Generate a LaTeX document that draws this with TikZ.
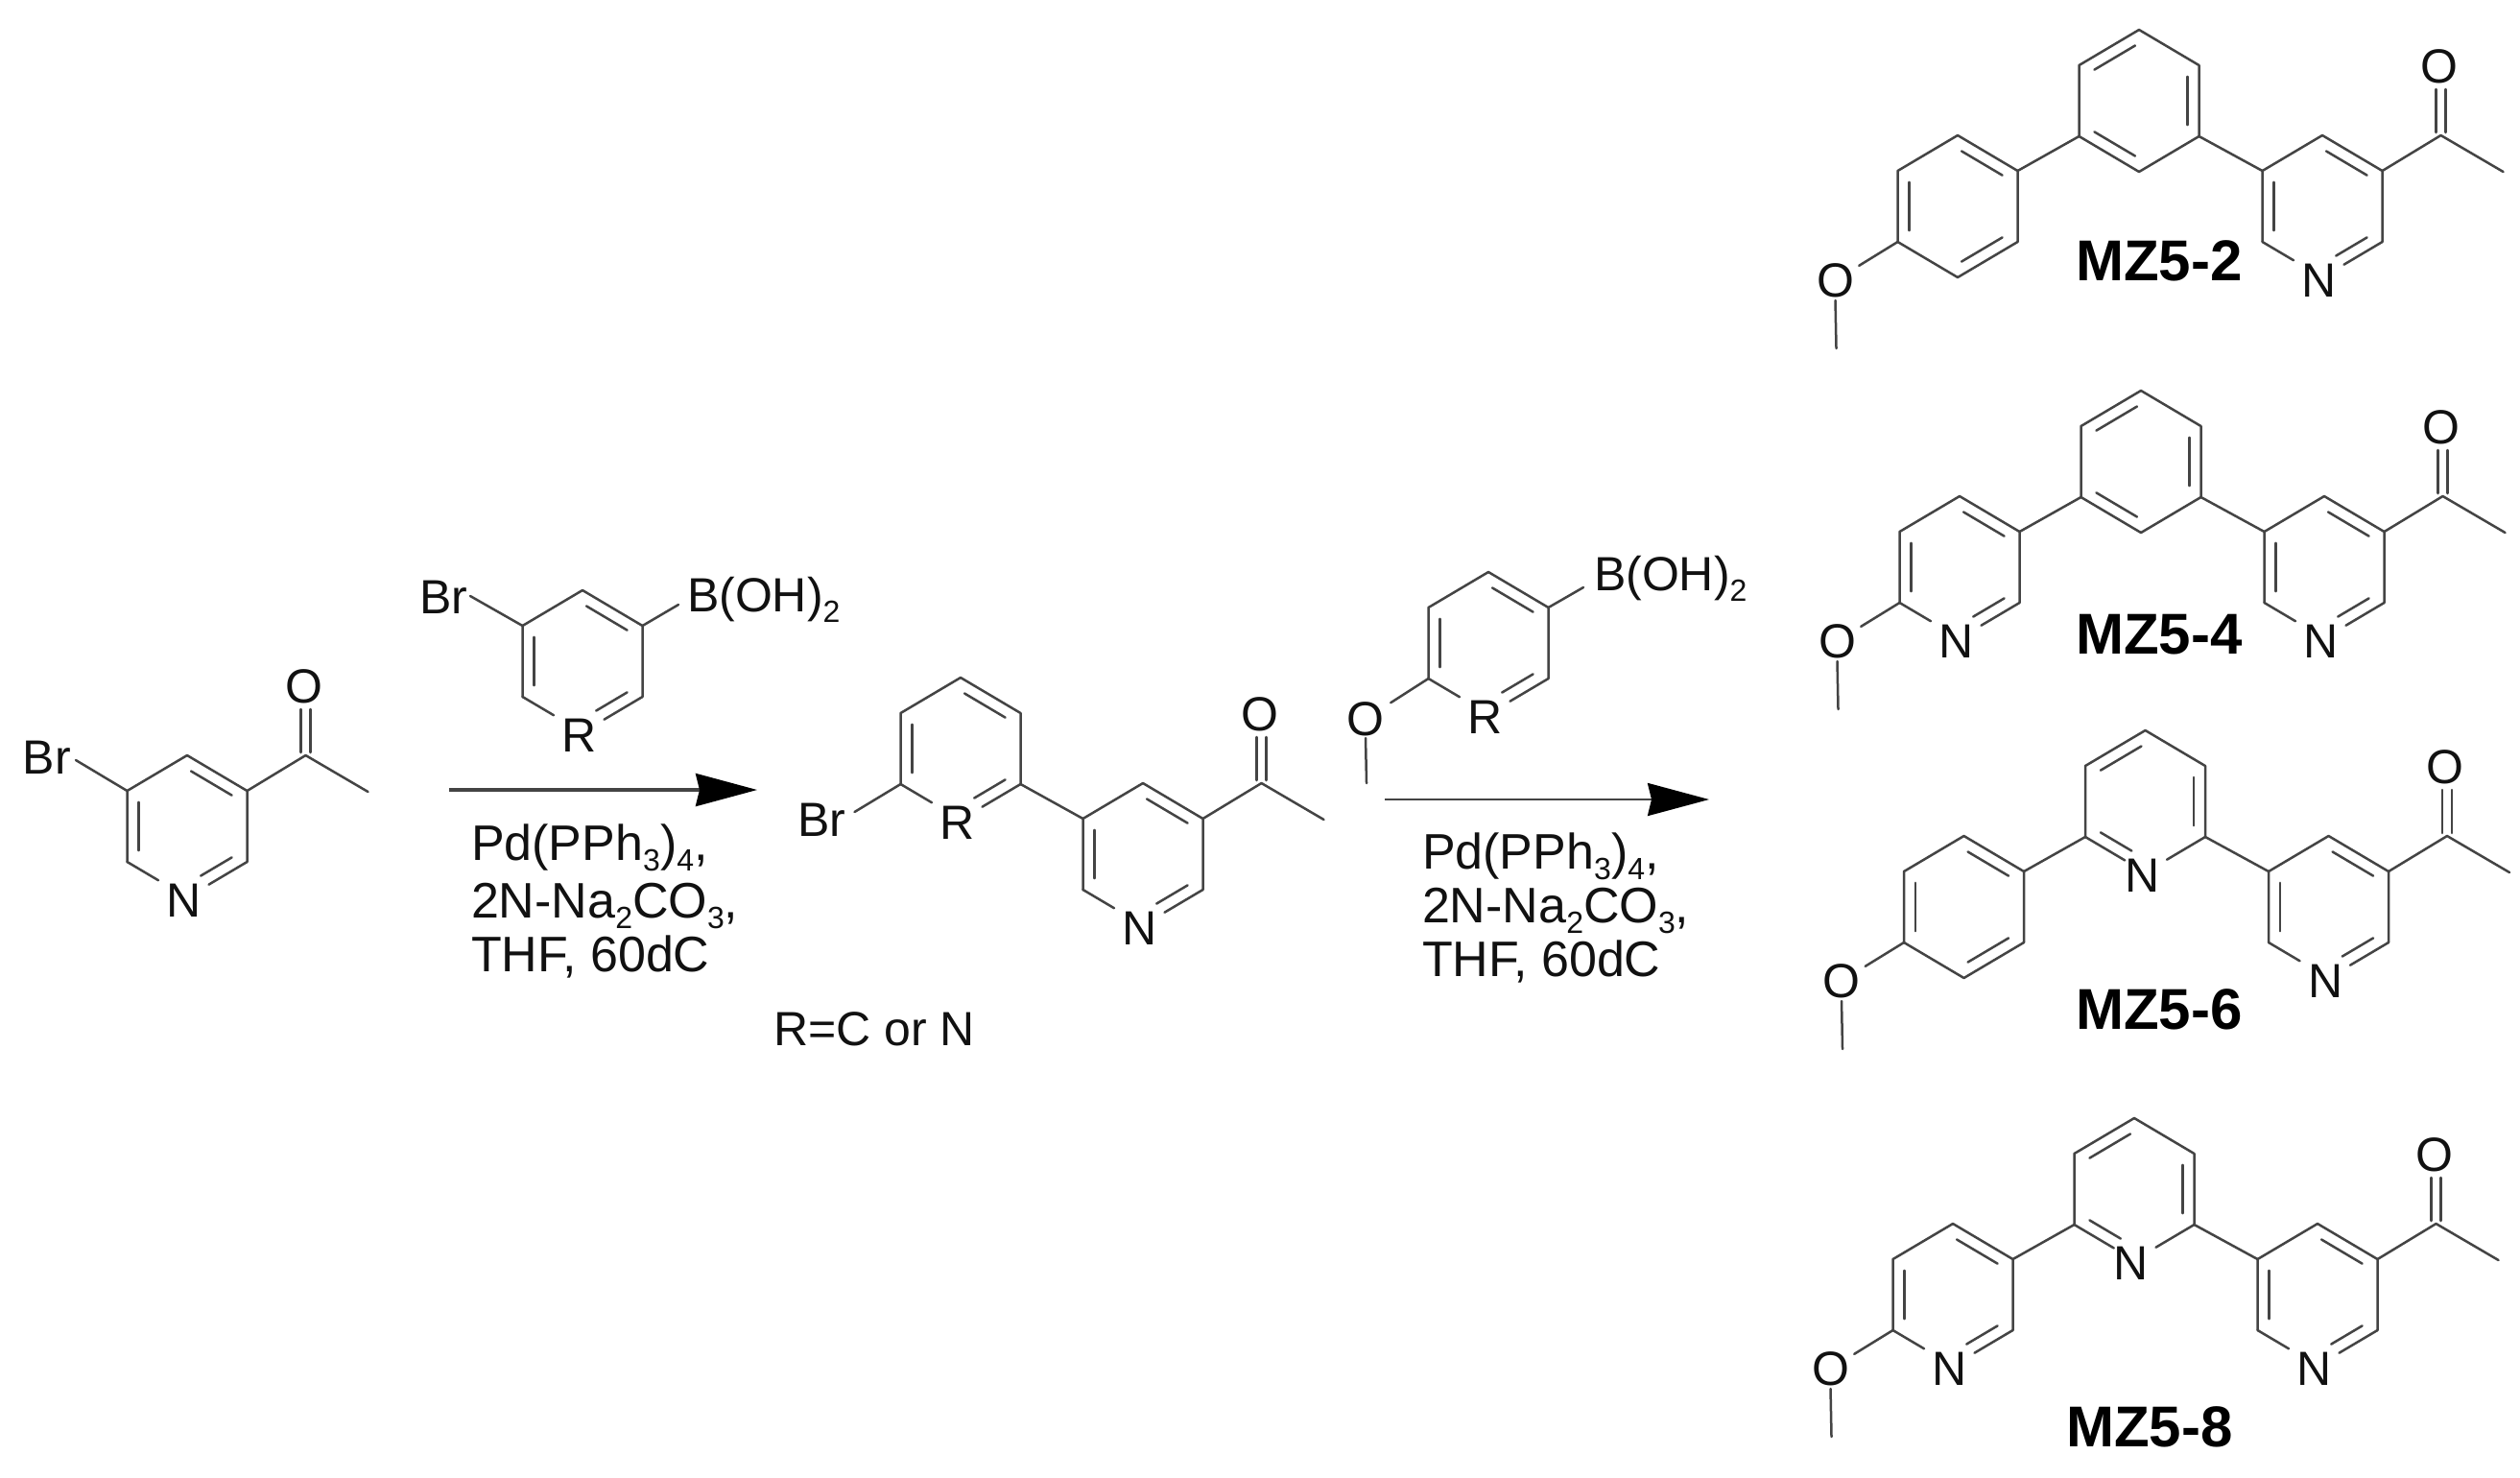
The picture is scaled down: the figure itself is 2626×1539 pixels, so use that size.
\documentclass[tikz,border=0pt]{standalone}
\usepackage{fontspec}
\setmainfont{Liberation Sans}
\usetikzlibrary{calc,arrows.meta}
\definecolor{bondcol}{HTML}{444444}
\definecolor{inkcol}{HTML}{111111}
\tikzset{
  bond/.style={draw=bondcol,line width=1.25pt,line cap=round,line join=round},
  atom/.style={inner sep=0pt,outer sep=0pt,text=inkcol,font=\fontsize{25}{25}\selectfont},
  txt/.style={inner sep=0pt,outer sep=0pt,anchor=base west,text=inkcol,font=\fontsize{25}{25}\selectfont},
  cond/.style={txt,font=\fontsize{26}{26}\selectfont},
  cpd/.style={inner sep=0pt,outer sep=0pt,anchor=base west,text=black,font=\fontsize{30}{30}\selectfont\bfseries},
  rxn/.style={draw=bondcol,line width=1.3pt,-{Stealth[length=32pt,width=17pt,inset=2pt,color=black]}},
}
\newcommand\lowsub[1]{\raisebox{-0.22em}{\fontsize{16}{16}\selectfont #1}}
% ring geometry: #1 id, #2 #3 centre
\newcommand\ringat[3]{%
  \coordinate (#1-c) at (#2,#3);
  \coordinate (#1-t) at ($(#1-c)+(0,-74)$);
  \coordinate (#1-b) at ($(#1-c)+(0,74)$);
  \coordinate (#1-ul) at ($(#1-c)+(-62.5,-37)$);
  \coordinate (#1-ur) at ($(#1-c)+(62.5,-37)$);
  \coordinate (#1-ll) at ($(#1-c)+(-62.5,37)$);
  \coordinate (#1-lr) at ($(#1-c)+(62.5,37)$);
}
% inner line of a double bond: #1 ring, #2 #3 vertices, #4 #5 fractions
\newcommand\inbond[5]{%
  \coordinate (tmpa) at ($(#1-c)!.81!(#1-#2)$);
  \coordinate (tmpb) at ($(#1-c)!.81!(#1-#3)$);
  \draw[bond] ($(tmpa)!#4!(tmpb)$) -- ($(tmpa)!#5!(tmpb)$);
}
% ring bonds: #1 id, #2 pattern (0=A,1=B), #3 bottom atom (empty = carbon)
\newcommand\ringbody[3]{%
  \draw[bond] (#1-ll) -- (#1-ul) -- (#1-t) -- (#1-ur) -- (#1-lr);
  \if\relax\detokenize{#3}\relax
    \draw[bond] (#1-lr) -- (#1-b) -- (#1-ll);
    \ifnum#2=0 \inbond{#1}{lr}{b}{.08}{.92}\else \inbond{#1}{ll}{b}{.08}{.92}\fi
  \else
    \draw[bond] (#1-lr) -- ($(#1-lr)!.64!(#1-b)$);
    \ifnum#2=0
      \draw[bond] (#1-ll) -- ($(#1-ll)!.52!(#1-b)$);
      \inbond{#1}{lr}{b}{.08}{.72}
    \else
      \draw[bond] (#1-ll) -- ($(#1-ll)!.66!(#1-b)$);
      \inbond{#1}{ll}{b}{.08}{.72}
    \fi
    \node[atom] (#1-h) at ($(#1-b)+(-3,3)$) {#3};
  \fi
  \ifnum#2=0
    \inbond{#1}{t}{ur}{.08}{.92}
    \inbond{#1}{ul}{ll}{.08}{.92}
  \else
    \inbond{#1}{ul}{t}{.08}{.92}
    \inbond{#1}{ur}{lr}{.08}{.92}
  \fi
}
% acetyl on the upper right vertex of ring #1
\newcommand\acetyl[1]{%
  \coordinate (#1-ac) at ($(#1-ur)+(61,-37)$);
  \coordinate (#1-me) at ($(#1-ac)+(65,38)$);
  \node[atom] (#1-O) at ($(#1-ac)+(-2,-72)$) {O};
  \draw[bond] (#1-ur) -- (#1-ac) -- (#1-me);
  \draw[bond] ($(#1-ac)+(-5,-48)$) -- ($(#1-ac)+(-5,-3)$);
  \draw[bond] ($(#1-ac)+(5,-48)$) -- ($(#1-ac)+(5,-3)$);
}
% methoxy on the lower left vertex of ring #1
\newcommand\methoxy[1]{%
  \node[atom] (#1-mO) at ($(#1-ll)+(-65,40)$) {O};
  \coordinate (#1-mC) at ($(#1-mO)+(1,71)$);
  \draw[bond] (#1-ll) -- ($(#1-ll)!.62!(#1-mO)$);
  \draw[bond] ($(#1-mO)+(0,21)$) -- (#1-mC);
}
% #1 id, #2 #3 centre of the middle ring, #4 left atom, #5 middle atom, #6 label, #7 #8 label position
\newcommand\mzmol[8]{%
  \pgfmathsetmacro\lcx{#2-189}\pgfmathsetmacro\rcx{#2+191}\pgfmathsetmacro\scy{#3+110}
  \ringat{#1m}{#2}{#3}
  \ringat{#1l}{\lcx}{\scy}
  \ringat{#1r}{\rcx}{\scy}
  \ringbody{#1m}{1}{#5}
  \ringbody{#1l}{0}{#4}
  \ringbody{#1r}{0}{N}
  \draw[bond] (#1l-ur) -- (#1m-ll);
  \draw[bond] (#1m-lr) -- (#1r-ul);
  \acetyl{#1r}
  \methoxy{#1l}
  \node[cpd] (#1-label) at (#7,#8) {#6};
}
\begin{document}
\begin{tikzpicture}[x=0.5pt,y=-0.5pt]
\useasboundingbox (0,0) rectangle (2626,1539);
\fill[white] (0,0) rectangle (2626,1539);

% starting material
\ringat{sm}{195}{861}
\ringbody{sm}{0}{N}
\acetyl{sm}
\node[atom] (sm-Br) at (49,789) {Br};
\coordinate (sm-Be) at (79,792);
\draw[bond] (sm-ul) -- (sm-Be);

% first boronic acid
\ringat{ra}{607}{689}
\ringbody{ra}{0}{R}
\node[atom] (ra-Br) at (462,622) {Br};
\coordinate (ra-Bre) at (490,621);
\draw[bond] (ra-ul) -- (ra-Bre);
\node[txt] (ra-B) at (716,637) {B(OH)\lowsub{2}};
\coordinate (ra-Be) at (707,630);
\draw[bond] (ra-ur) -- (ra-Be);

% first arrow and conditions
\coordinate (a1s) at (468,823);
\coordinate (a1e) at (789,823);
\draw[rxn,line width=1.7pt] (a1s) -- (a1e);
\node[cond] (c1a) at (491,896) {Pd(PPh\lowsub{3})\lowsub{4},};
\node[cond] (c1b) at (491,956) {2N-Na\lowsub{2}CO\lowsub{3},};
\node[cond] (c1c) at (491,1012) {THF, 60dC};

% intermediate
\ringat{il}{1001}{780}
\ringat{ir}{1191}{890}
\ringbody{il}{0}{R}
\ringbody{ir}{0}{N}
\acetyl{ir}
\draw[bond] (il-lr) -- (ir-ul);
\node[atom] (il-Br) at (856,854) {Br};
\coordinate (il-Be) at (890.5,846);
\draw[bond] (il-ll) -- (il-Be);
\node[txt] (rc) at (806,1089) {R=C or N};

% second boronic acid
\ringat{rb}{1551}{670}
\ringbody{rb}{0}{R}
\node[txt] (rb-B) at (1661,615) {B(OH)\lowsub{2}};
\coordinate (rb-Be) at (1650,612);
\draw[bond] (rb-ur) -- (rb-Be);
\node[atom] (rb-O) at (1423,749) {O};
\coordinate (rb-M) at (1424,816);
\draw[bond] (rb-ll) -- ($(rb-ll)!.6!(rb-O)$);
\draw[bond] ($(rb-O)+(0,20)$) -- (rb-M);

% second arrow and conditions
\coordinate (a2s) at (1443,833);
\coordinate (a2e) at (1781,833);
\draw[rxn] (a2s) -- (a2e);
\node[cond] (c2a) at (1482,905) {Pd(PPh\lowsub{3})\lowsub{4},};
\node[cond] (c2b) at (1482,961) {2N-Na\lowsub{2}CO\lowsub{3},};
\node[cond] (c2c) at (1482,1017) {THF, 60dC};

% products
\mzmol{p}{2229}{105}{}{}{MZ5-2}{2163}{292}
\mzmol{q}{2231}{481}{N}{}{MZ5-4}{2163}{681}
\mzmol{s}{2235.5}{835}{}{N}{MZ5-6}{2163}{1072}
\mzmol{u}{2224}{1239}{N}{N}{MZ5-8}{2153}{1507}
\end{tikzpicture}
\end{document}
